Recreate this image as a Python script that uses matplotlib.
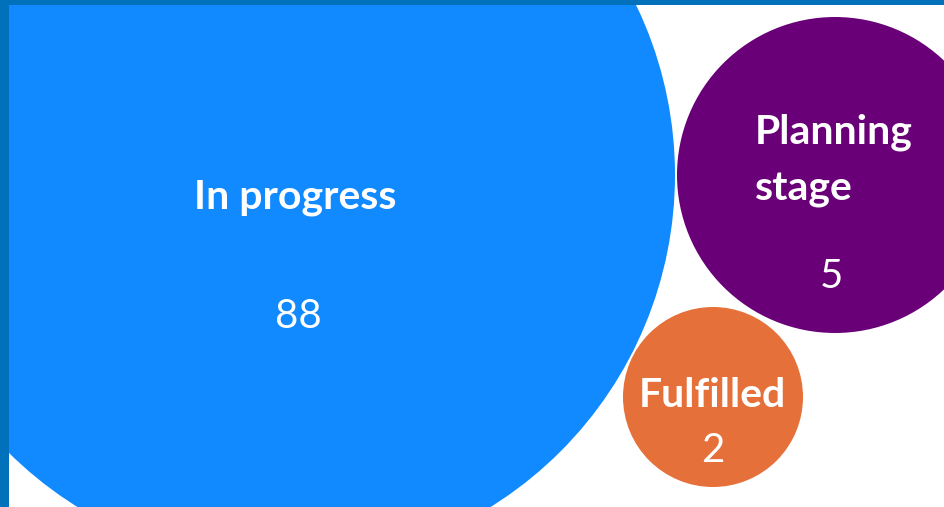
import matplotlib.pyplot as plt
from matplotlib.patches import Circle, Rectangle

# Data
labels = ["In progress", "Planning\nstage", "Fulfilled"]
values = [88, 5, 2]
colors = ["#118AFF", "#6A0078", "#E6703A"]

# Layout of the packed bubbles (pixels, y downward)
centers = [(284, 175), (835, 175), (713, 397)]
radii = [391, 158, 90]
# label / value baseline offsets from bubble centre
label_pos = [(11, 33, 'center'), (-80, 25, 'left'), (-1, 10, 'center')]
value_pos = [(14, 153), (-4, 113), (0, 65)]

W, H = 945, 507
fig = plt.figure(figsize=(W / 100, H / 100), dpi=100)
ax = fig.add_axes([0, 0, 1, 1])
ax.set_xlim(0, W)
ax.set_ylim(H, 0)
ax.axis('off')

font = "Lato"

for i in range(len(values)):
    cx, cy = centers[i]
    ax.add_patch(Circle((cx, cy), radii[i], color=colors[i], lw=0, zorder=1))
    lx, ly, ha = label_pos[i]
    ax.text(cx + lx, cy + ly, labels[i], color="white", fontsize=29.5,
            fontweight="bold", family=font, ha=ha, va="baseline",
            linespacing=1.62, zorder=3)
    vx, vy = value_pos[i]
    ax.text(cx + vx, cy + vy, str(values[i]), color="white", fontsize=29,
            family=font, ha="center", va="baseline", zorder=3)

# frame strips along the left and top edge
ax.add_patch(Rectangle((0, 0), 9, H, color="#0071BA", lw=0, zorder=5))
ax.add_patch(Rectangle((0, 0), W, 5, color="#0071BA", lw=0, zorder=5))

fig.savefig("out.png", dpi=100)
